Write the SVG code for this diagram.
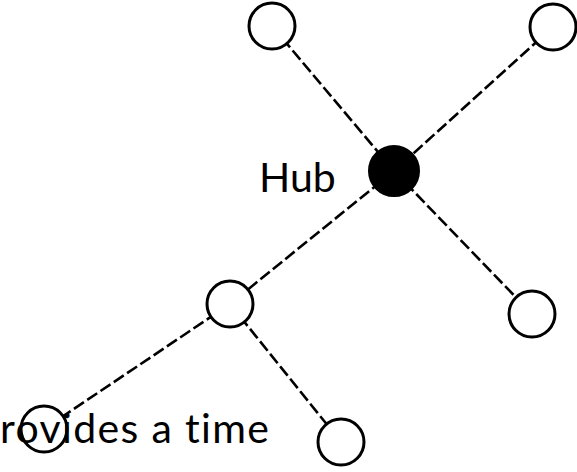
<svg xmlns="http://www.w3.org/2000/svg" width="577" height="472" viewBox="0 0 577 472">
  <style>
    .link { stroke: #000; stroke-width: 2.6; stroke-dasharray: 12 4; fill: none; }
    .node { fill: #fff; stroke: #000; stroke-width: 3; }
    .hub { fill: #000; stroke: #000; stroke-width: 2; }
    .label { font-family: Lato, "Open Sans", "Liberation Sans", sans-serif; font-size: 41px; fill: #000; font-variant-ligatures: none; font-feature-settings: "liga" 0; }
  </style>
  <rect width="577" height="472" fill="#fff"/>
  <g id="connectors">
    <line class="link" x1="272" y1="26" x2="394" y2="171"/>
    <line class="link" x1="553" y1="27" x2="394" y2="171"/>
    <line class="link" x1="394" y1="171" x2="532" y2="314"/>
    <line class="link" x1="394" y1="171" x2="230" y2="304"/>
    <line class="link" x1="230" y1="304" x2="44" y2="429"/>
    <line class="link" x1="230" y1="304" x2="341" y2="442"/>
  </g>
  <g id="node-top-left"><circle class="node" cx="272" cy="26" r="23"/></g>
  <g id="node-top-right"><circle class="node" cx="553" cy="27" r="23"/></g>
  <g id="node-hub">
    <circle class="hub" cx="394" cy="171" r="25"/>
    <text class="label" x="259" y="192">Hub</text>
  </g>
  <g id="node-right"><circle class="node" cx="532" cy="314" r="23"/></g>
  <g id="node-mid"><circle class="node" cx="230" cy="304" r="23"/></g>
  <g id="node-bottom-left"><circle class="node" cx="44" cy="429" r="23"/></g>
  <g id="node-bottom-mid"><circle class="node" cx="341" cy="442" r="23"/></g>
  <text class="label" x="0" y="443" textLength="269">rovides a time</text>
</svg>
